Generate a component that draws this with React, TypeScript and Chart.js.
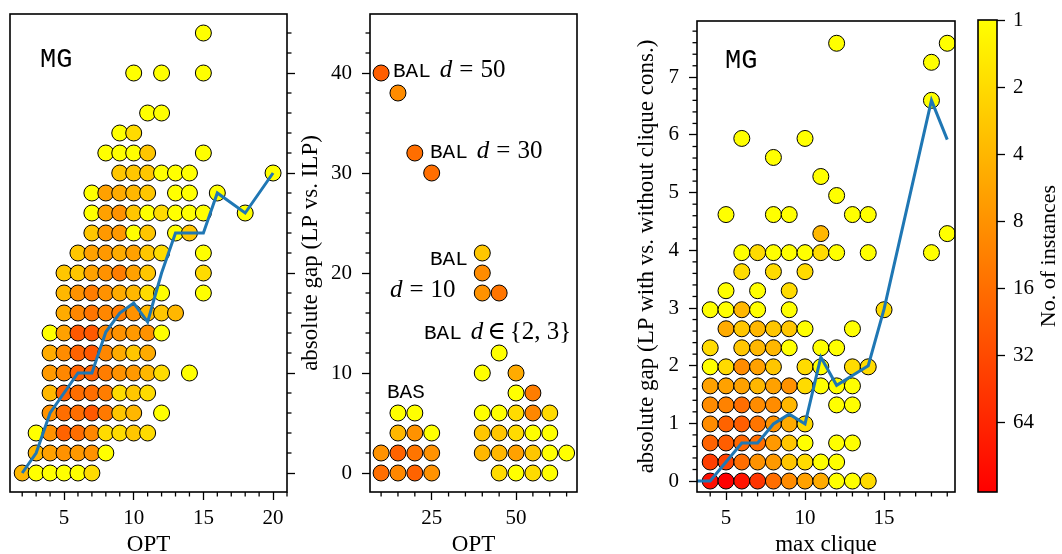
import React, { useEffect, useRef } from "react";
import { Chart, registerables } from "chart.js";
Chart.register(...registerables);

const SERIF = '"Liberation Serif", "DejaVu Serif", serif';
const MONO = '"Liberation Mono", "DejaVu Sans Mono", monospace';
const BLUE = "#1f77b4";
const VMAX = 132;

// ---------- Panel 1: MG, OPT vs absolute gap (LP vs. ILP): [OPT, gap, count]
const mgOptPoints: [number, number, number][] = [
  [2, 0, 4], [3, 0, 1], [4, 0, 1], [5, 0, 1], [6, 0, 1], [7, 0, 2],
  [3, 1, 4], [4, 1, 6], [5, 1, 8], [6, 1, 7], [7, 1, 8], [8, 1, 1],
  [3, 2, 1], [4, 2, 8], [5, 2, 20], [6, 2, 16], [7, 2, 10], [8, 2, 2], [9, 2, 2], [10, 2, 3], [11, 2, 2],
  [4, 3, 8], [5, 3, 16], [6, 3, 16], [7, 3, 24], [8, 3, 13], [9, 3, 3], [10, 3, 4], [12, 3, 1],
  [4, 4, 4], [5, 4, 20], [6, 4, 16], [7, 4, 16], [8, 4, 12], [9, 4, 2], [10, 4, 3], [11, 4, 2],
  [4, 5, 7], [5, 5, 10], [6, 5, 20], [7, 5, 20], [8, 5, 12], [9, 5, 8], [10, 5, 7], [11, 5, 4], [12, 5, 2], [14, 5, 1],
  [4, 6, 5], [5, 6, 9], [6, 6, 20], [7, 6, 24], [8, 6, 10], [9, 6, 5], [10, 6, 3], [11, 6, 5],
  [4, 7, 1], [5, 7, 6], [6, 7, 24], [7, 7, 24], [8, 7, 10], [9, 7, 8], [10, 7, 7], [11, 7, 8], [12, 7, 1],
  [5, 8, 5], [6, 8, 10], [7, 8, 14], [8, 8, 10], [9, 8, 12], [10, 8, 8], [11, 8, 4], [12, 8, 3], [13, 8, 4],
  [5, 9, 4], [6, 9, 8], [7, 9, 12], [8, 9, 8], [9, 9, 5], [10, 9, 4], [11, 9, 2], [12, 9, 1], [15, 9, 1],
  [5, 10, 3], [6, 10, 3], [7, 10, 6], [8, 10, 8], [9, 10, 12], [10, 10, 6], [11, 10, 3], [15, 10, 2],
  [6, 11, 3], [7, 11, 6], [8, 11, 7], [9, 11, 5], [10, 11, 6], [11, 11, 3], [12, 11, 2], [15, 11, 1],
  [7, 12, 3], [8, 12, 7], [9, 12, 7], [10, 12, 1], [11, 12, 3], [13, 12, 1], [14, 12, 3],
  [7, 13, 1], [8, 13, 6], [9, 13, 8], [10, 13, 3], [11, 13, 1], [12, 13, 2], [13, 13, 1], [14, 13, 1], [15, 13, 1], [18, 13, 1],
  [7, 14, 1], [8, 14, 6], [9, 14, 5], [10, 14, 4], [11, 14, 3], [13, 14, 1], [14, 14, 1], [16, 14, 1],
  [9, 15, 3], [10, 15, 3], [11, 15, 3], [12, 15, 1], [13, 15, 1], [14, 15, 1], [20, 15, 1],
  [8, 16, 1], [9, 16, 1], [10, 16, 1], [11, 16, 3], [15, 16, 1],
  [9, 17, 1], [10, 17, 2],
  [11, 18, 1], [12, 18, 1],
  [10, 20, 1], [12, 20, 1], [15, 20, 1],
  [15, 22, 1],
];
const mgOptMeanX = [2, 3, 4, 5, 6, 7, 8, 9, 10, 11, 12, 13, 14, 15, 16, 18, 20];
const mgOptMeanY = [0, 1, 3, 4, 5, 5, 7.05, 8, 8.5, 7.55, 10, 12, 12, 12, 14, 13, 15];

// ---------- Panel 2: BAL / BAS, OPT vs absolute gap: [OPT, gap, count]
const balBasPoints: [number, number, number][] = [
  [10, 0, 16], [10, 2, 8], [10, 40, 22],
  [15, 0, 10], [15, 2, 20], [15, 4, 4], [15, 6, 1], [15, 38, 9],
  [20, 0, 20], [20, 2, 14], [20, 4, 8], [20, 6, 1], [20, 32, 16],
  [25, 0, 8], [25, 2, 8], [25, 4, 1], [25, 30, 16],
  [40, 2, 4], [40, 4, 3], [40, 6, 1], [40, 10, 1], [40, 18, 8], [40, 20, 9], [40, 22, 3],
  [45, 0, 2], [45, 2, 4], [45, 4, 3], [45, 6, 1], [45, 12, 1], [45, 18, 14],
  [50, 0, 1], [50, 2, 6], [50, 4, 2], [50, 6, 2], [50, 8, 1], [50, 10, 5],
  [55, 0, 2], [55, 2, 3], [55, 4, 1], [55, 6, 10], [55, 8, 12],
  [60, 0, 1], [60, 2, 1], [60, 4, 1], [60, 6, 2],
  [65, 2, 1],
];
const balTexts = ["BAL d = 50", "BAL d = 30", "BAL", "d = 10", "BAL d ∈ {2, 3}", "BAS"];
const balTextAnchorX = [13.53, 24.5, 24.5, 12.64, 22.72, 11.75];
const balTextAnchorY = [39.6, 31.5, 20.8, 17.6, 13.4, 7.5];

// ---------- Panel 3: MG, max clique vs absolute gap (LP with vs. without clique cons.)
const cliquePoints: [number, number, number][] = [
  [4, 0, 100], [5, 0, 132], [6, 0, 90], [7, 0, 48], [8, 0, 16], [9, 0, 9], [10, 0, 6], [11, 0, 5], [12, 0, 1], [13, 0, 1], [14, 0, 2],
  [4, 0.33, 40], [5, 0.33, 36], [6, 0.33, 16], [7, 0.33, 8], [8, 0.33, 7], [9, 0.33, 3], [10, 0.33, 2], [11, 0.33, 1], [12, 0.33, 1],
  [4, 0.66, 20], [5, 0.66, 22], [6, 0.66, 18], [7, 0.66, 16], [8, 0.66, 7], [9, 0.66, 3], [10, 0.66, 1], [12, 0.66, 1], [13, 0.66, 1],
  [4, 0.99, 9], [5, 0.99, 20], [6, 0.99, 22], [7, 0.99, 14], [8, 0.99, 8], [9, 0.99, 5], [10, 0.99, 2],
  [4, 1.32, 9], [5, 1.32, 11], [6, 1.32, 16], [7, 1.32, 9], [8, 1.32, 9], [9, 1.32, 4], [12, 1.32, 1], [13, 1.32, 1],
  [4, 1.65, 6], [5, 1.65, 6], [6, 1.65, 6], [7, 1.65, 4], [8, 1.65, 6], [9, 1.65, 8], [10, 1.65, 2], [11, 1.65, 1], [12, 1.65, 1], [13, 1.65, 1],
  [4, 1.98, 1], [5, 1.98, 2], [6, 1.98, 9], [7, 1.98, 6], [8, 1.98, 3], [10, 1.98, 2], [11, 1.98, 1], [13, 1.98, 2], [14, 1.98, 2],
  [4, 2.31, 2], [6, 2.31, 3], [7, 2.31, 4], [8, 2.31, 4], [9, 2.31, 1], [11, 2.31, 1], [12, 2.31, 1],
  [5, 2.64, 5], [6, 2.64, 3], [7, 2.64, 4], [8, 2.64, 3], [9, 2.64, 3], [10, 2.64, 1], [13, 2.64, 1],
  [4, 2.97, 1], [5, 2.97, 1], [6, 2.97, 4], [7, 2.97, 1], [9, 2.97, 1], [15, 2.97, 2],
  [5, 3.3, 1], [7, 3.3, 1], [9, 3.3, 2],
  [6, 3.63, 2], [8, 3.63, 2], [10, 3.63, 2],
  [6, 3.96, 1], [7, 3.96, 2], [8, 3.96, 1], [9, 3.96, 1], [10, 3.96, 1], [11, 3.96, 2], [12, 3.96, 1], [14, 3.96, 1], [18, 3.96, 1],
  [11, 4.29, 4], [19, 4.29, 1],
  [5, 4.62, 1], [8, 4.62, 1], [9, 4.62, 1], [13, 4.62, 1], [14, 4.62, 1],
  [12, 4.95, 1], [11, 5.28, 1], [8, 5.61, 1], [6, 5.94, 1], [10, 5.94, 1],
  [18, 6.6, 1], [18, 7.26, 1], [12, 7.59, 1], [19, 7.59, 1],
];
const cliqueMeanX = [3, 4, 5, 6, 7, 8, 9, 10, 11, 12, 13, 14, 15, 18, 19];
const cliqueMeanY = [0, 0, 0.33, 0.66, 0.66, 0.99, 1.16, 0.99, 2.15, 1.66, 1.83, 2.0, 2.98, 6.6, 5.92];

const colorbarTicks = [1, 2, 4, 8, 16, 32, 64];

// ---------- helpers
function countColor(c: number) {
  const t = Math.min(1, Math.max(0, Math.log(c) / Math.log(VMAX)));
  return `rgb(255,${Math.round(255 * (1 - t))},0)`;
}

function minorRange(start: number, stop: number, step: number, majorStep: number) {
  const out: number[] = [];
  for (let k = 0; ; k++) {
    const v = +(start + k * step).toFixed(6);
    if (v > stop + 1e-9) break;
    const r = v / majorStep;
    if (Math.abs(r - Math.round(r)) > 1e-6) out.push(v);
  }
  return out;
}

const tickFont = { family: SERIF, size: 21, lineHeight: 1.2 };
const titleFont = { family: SERIF, size: 23, lineHeight: 1 };
const majorGrid = {
  display: true,
  drawOnChartArea: false,
  drawTicks: true,
  tickLength: 8,
  tickWidth: 1.3,
  tickColor: "#000",
};

const fitW = (w: number) => (s: any) => {
  s.width = w;
  s.paddingLeft = s.paddingRight = s.paddingTop = s.paddingBottom = 0;
};
const fitH = (h: number) => (s: any) => {
  s.height = h;
  s.paddingLeft = s.paddingRight = s.paddingTop = s.paddingBottom = 0;
};
const setTicks = (vals: number[]) => (s: any) => {
  s.ticks = vals.map((v) => ({ value: v }));
};

type Part = { f: string; t: string; gap?: number };
type Label = { x: number; y: number; parts: Part[] };
type Minor = { axis: string; side: "bottom" | "left" | "right"; values: number[]; len: number };

const TT = `21px ${MONO}`;
const IT = `italic 25px ${SERIF}`;
const RM = `25px ${SERIF}`;
const BIG = `27px ${MONO}`;

function mathParts(text: string): Part[] {
  const parts: Part[] = [];
  const toks = text.split(" ");
  let first = true;
  let i = 0;
  while (i < toks.length) {
    const tk = toks[i];
    if (tk === "BAL" || tk === "BAS") {
      parts.push({ f: TT, t: tk, gap: first ? 0 : 10 });
    } else if (tk === "d") {
      parts.push({ f: IT, t: "d", gap: first ? 0 : 9 });
    } else if (tk === "=" || tk === "∈") {
      parts.push({ f: RM, t: tk, gap: tk === "∈" ? 4 : 7 });
    } else {
      parts.push({ f: RM, t: toks.slice(i).join(" "), gap: toks[i - 1] === "∈" ? 4 : 7 });
      break;
    }
    first = false;
    i++;
  }
  return parts;
}

function decor(minor: Minor[], labels: Label[]) {
  return {
    id: "decor",
    afterDatasetsDraw(chart: any) {
      const ctx = chart.ctx;
      ctx.save();
      ctx.fillStyle = "#000";
      ctx.textBaseline = "alphabetic";
      ctx.textAlign = "left";
      for (const lb of labels) {
        let x = chart.scales.x.getPixelForValue(lb.x);
        const y = chart.scales.y.getPixelForValue(lb.y);
        for (const p of lb.parts) {
          x += p.gap || 0;
          ctx.font = p.f;
          ctx.fillText(p.t, x, y);
          x += ctx.measureText(p.t).width;
        }
      }
      ctx.restore();
    },
    afterDraw(chart: any) {
      const { ctx, chartArea: a } = chart;
      ctx.save();
      ctx.strokeStyle = "#000";
      ctx.lineWidth = 1.3;
      for (const m of minor) {
        const s = chart.scales[m.axis];
        for (const v of m.values) {
          const p = s.getPixelForValue(v);
          ctx.beginPath();
          if (m.side === "bottom") {
            ctx.moveTo(p, a.bottom);
            ctx.lineTo(p, a.bottom + m.len);
          } else if (m.side === "left") {
            ctx.moveTo(a.left, p);
            ctx.lineTo(a.left - m.len, p);
          } else {
            ctx.moveTo(a.right, p);
            ctx.lineTo(a.right + m.len, p);
          }
          ctx.stroke();
        }
      }
      ctx.lineWidth = 1.6;
      ctx.strokeRect(a.left, a.top, a.right - a.left, a.bottom - a.top);
      ctx.restore();
    },
  };
}

function scatterSets(points: [number, number, number][], meanX: number[], meanY: number[] | null) {
  const sorted = [...points].sort((p, q) => p[0] - q[0] || p[1] - q[1]);
  const sets: any[] = [];
  if (meanY) {
    sets.push({
      type: "scatter",
      data: meanX.map((x, i) => ({ x, y: meanY[i] })),
      showLine: true,
      borderColor: BLUE,
      borderWidth: 3,
      pointRadius: 0,
      fill: false,
      tension: 0,
      order: 0,
      clip: 0,
    });
  }
  sets.push({
    type: "scatter",
    data: sorted.map(([x, y]) => ({ x, y })),
    pointRadius: 8,
    pointBackgroundColor: sorted.map((p) => countColor(p[2])),
    pointBorderColor: "#000",
    pointBorderWidth: 1,
    order: 1,
  });
  return sets;
}

const baseOpts = {
  responsive: false,
  animation: false,
  events: [],
  plugins: { legend: { display: false }, tooltip: { enabled: false } },
};

function panel1(): any {
  return {
    type: "scatter",
    data: { datasets: scatterSets(mgOptPoints, mgOptMeanX, mgOptMeanY) },
    options: {
      ...baseOpts,
      layout: { padding: { left: 10, top: 14, right: 755, bottom: 0 } },
      scales: {
        x: {
          type: "linear", position: "bottom", min: 1.124, max: 21.0,
          afterBuildTicks: setTicks([5, 10, 15, 20]), afterFit: fitH(62),
          ticks: { font: tickFont, color: "#000", padding: 6, maxRotation: 0, autoSkip: false, callback: (v: any) => String(v) },
          grid: majorGrid, border: { display: false },
          title: { display: true, text: "OPT", font: titleFont, color: "#000", padding: { top: 0, bottom: -2.5 } },
        },
        y: {
          type: "linear", position: "right", min: -0.95, max: 22.95,
          afterBuildTicks: setTicks([0, 5, 10, 15, 20]), afterFit: fitW(20),
          ticks: { font: tickFont, color: "#000", padding: 4, autoSkip: false, callback: () => "" },
          grid: majorGrid, border: { display: false },
        },
      },
    },
    plugins: [
      decor(
        [
          { axis: "x", side: "bottom", values: minorRange(2, 21, 1, 5), len: 4.5 },
          { axis: "y", side: "right", values: minorRange(0, 22, 1, 5), len: 4.5 },
        ],
        [{ x: 3.28, y: 20.3, parts: [{ f: BIG, t: "MG" }] }]
      ),
    ],
  };
}

function panel2(): any {
  const labels: Label[] = balTexts.map((t, i) => ({ x: balTextAnchorX[i], y: balTextAnchorY[i], parts: mathParts(t) }));
  return {
    type: "scatter",
    data: { datasets: scatterSets(balBasPoints, [], null) },
    options: {
      ...baseOpts,
      layout: { padding: { left: 295, top: 14, right: 485, bottom: 0 } },
      scales: {
        x: {
          type: "linear", position: "bottom", min: 6.71, max: 68.08,
          afterBuildTicks: setTicks([25, 50]), afterFit: fitH(62),
          ticks: { font: tickFont, color: "#000", padding: 6, maxRotation: 0, autoSkip: false, callback: (v: any) => String(v) },
          grid: majorGrid, border: { display: false },
          title: { display: true, text: "OPT", font: titleFont, color: "#000", padding: { top: 0, bottom: -2.5 } },
        },
        y: {
          type: "linear", position: "left", min: -1.9, max: 45.9,
          afterBuildTicks: setTicks([0, 10, 20, 30, 40]), afterFit: fitW(75),
          ticks: { font: tickFont, color: "#000", padding: 10, autoSkip: false, callback: (v: any) => String(v) },
          grid: majorGrid, border: { display: false },
          title: { display: true, text: "absolute gap (LP vs. ILP)", font: titleFont, color: "#000", padding: { top: 4.5, bottom: 0 } },
        },
      },
    },
    plugins: [
      decor(
        [
          { axis: "x", side: "bottom", values: minorRange(10, 65, 5, 25), len: 4.5 },
          { axis: "y", side: "left", values: minorRange(0, 44, 2, 10), len: 4.5 },
        ],
        labels
      ),
    ],
  };
}

function panel3(): any {
  return {
    type: "scatter",
    data: { datasets: scatterSets(cliquePoints, cliqueMeanX, cliqueMeanY) },
    options: {
      ...baseOpts,
      layout: { padding: { left: 635, top: 21, right: 107, bottom: 0 } },
      scales: {
        x: {
          type: "linear", position: "bottom", min: 3.165, max: 19.49,
          afterBuildTicks: setTicks([5, 10, 15]), afterFit: fitH(62),
          ticks: { font: tickFont, color: "#000", padding: 6, maxRotation: 0, autoSkip: false, callback: (v: any) => String(v) },
          grid: majorGrid, border: { display: false },
          title: { display: true, text: "max clique", font: titleFont, color: "#000", padding: { top: 0, bottom: -2.5 } },
        },
        y: {
          type: "linear", position: "left", min: -0.19, max: 7.976,
          afterBuildTicks: setTicks([0, 1, 2, 3, 4, 5, 6, 7]), afterFit: fitW(62),
          ticks: { font: tickFont, color: "#000", padding: 10, autoSkip: false, callback: (v: any) => String(v) },
          grid: majorGrid, border: { display: false },
          title: {
            display: true, text: "absolute gap (LP with vs. without clique cons.)",
            font: titleFont, color: "#000", padding: { top: 0.5, bottom: 0 },
          },
        },
      },
    },
    plugins: [
      decor(
        [
          { axis: "x", side: "bottom", values: minorRange(4, 19, 1, 5), len: 4.5 },
          { axis: "y", side: "left", values: minorRange(0, 7.8, 0.2, 1), len: 4.5 },
        ],
        [{ x: 4.94, y: 7.16, parts: [{ f: BIG, t: "MG" }] }]
      ),
    ],
  };
}

function colorbar(): any {
  const plugin = {
    id: "cbar",
    beforeDatasetsDraw(chart: any) {
      const { ctx, chartArea: a } = chart;
      const s = chart.scales.y;
      const y1 = s.getPixelForValue(1);
      const y2 = s.getPixelForValue(VMAX);
      const g = ctx.createLinearGradient(0, y1, 0, y2);
      g.addColorStop(0, countColor(1));
      g.addColorStop(1, countColor(VMAX));
      ctx.save();
      ctx.fillStyle = g;
      ctx.fillRect(a.left, a.top, a.right - a.left, a.bottom - a.top);
      ctx.restore();
    },
    afterDraw(chart: any) {
      const { ctx, chartArea: a } = chart;
      ctx.save();
      ctx.strokeStyle = "#000";
      ctx.lineWidth = 1.6;
      ctx.strokeRect(a.left, a.top, a.right - a.left, a.bottom - a.top);
      ctx.translate(1049, (a.top + a.bottom) / 2);
      ctx.rotate(-Math.PI / 2);
      ctx.fillStyle = "#000";
      ctx.font = `22px ${SERIF}`;
      ctx.textAlign = "center";
      ctx.textBaseline = "middle";
      ctx.fillText("No. of instances", 0, 0);
      ctx.restore();
    },
  };
  return {
    type: "scatter",
    data: { datasets: [] },
    options: {
      ...baseOpts,
      layout: { padding: { left: 978, top: 20, right: 20, bottom: 62 } },
      scales: {
        x: { type: "linear", display: false, min: 0, max: 1 },
        y: {
          type: "logarithmic", position: "right", min: 1, max: VMAX, reverse: true,
          afterBuildTicks: setTicks(colorbarTicks), afterFit: fitW(45),
          ticks: { font: tickFont, color: "#000", padding: 8, autoSkip: false, callback: (v: any) => String(v) },
          grid: majorGrid, border: { display: false },
        },
      },
    },
    plugins: [plugin],
  };
}

export default function App() {
  const r1 = useRef<HTMLCanvasElement>(null);
  const r2 = useRef<HTMLCanvasElement>(null);
  const r3 = useRef<HTMLCanvasElement>(null);
  const r4 = useRef<HTMLCanvasElement>(null);

  useEffect(() => {
    const charts = [
      new Chart(r1.current as any, panel1()),
      new Chart(r2.current as any, panel2()),
      new Chart(r3.current as any, panel3()),
      new Chart(r4.current as any, colorbar()),
    ];
    return () => charts.forEach((c) => c.destroy());
  }, []);

  const cs: React.CSSProperties = { position: "absolute", left: 0, top: 0, width: 1062, height: 554 };
  return (
    <div style={{ position: "absolute", left: 0, top: 0, width: 1062, height: 554, background: "#fff" }}>
      <canvas ref={r1} width={1062} height={554} style={cs} />
      <canvas ref={r2} width={1062} height={554} style={cs} />
      <canvas ref={r3} width={1062} height={554} style={cs} />
      <canvas ref={r4} width={1062} height={554} style={cs} />
    </div>
  );
}
